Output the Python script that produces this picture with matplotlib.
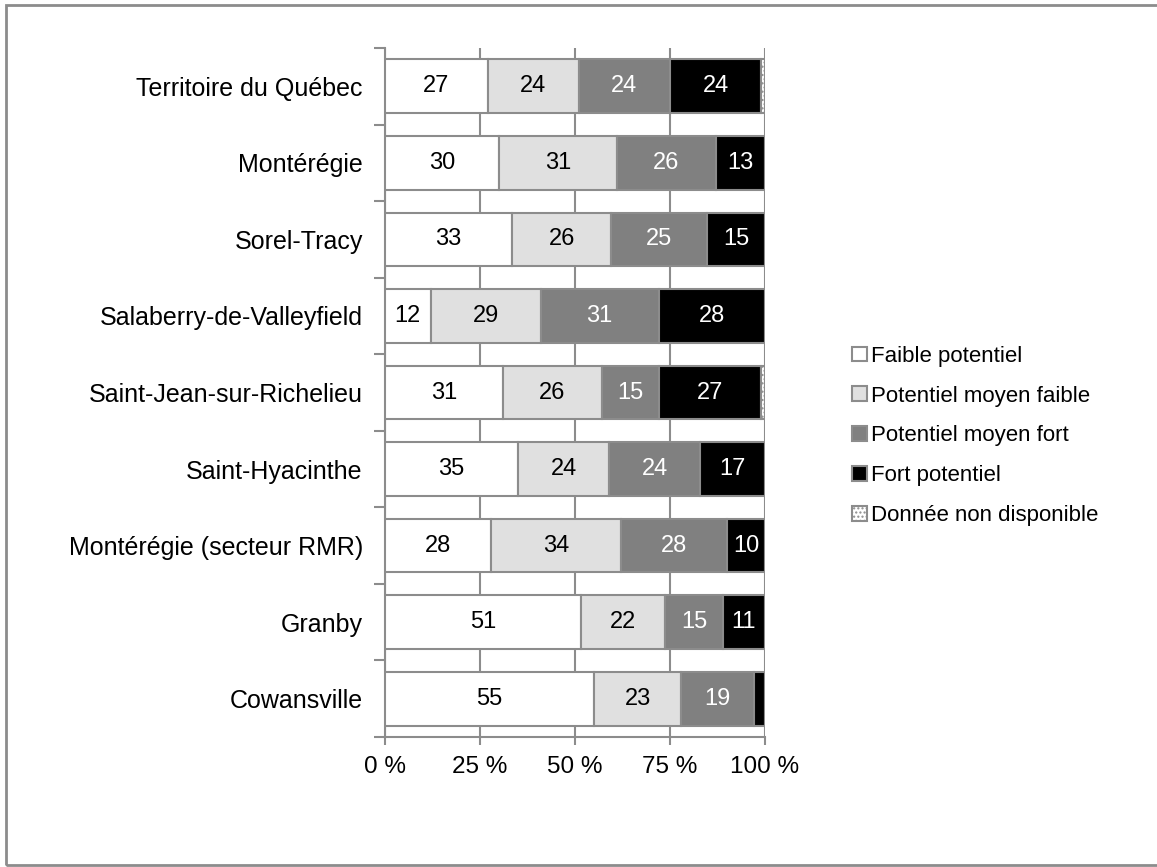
import matplotlib.pyplot as plt
from matplotlib.patches import Patch, Rectangle

plt.rcParams['font.family'] = ['Liberation Sans', 'DejaVu Sans']

regions = ['Territoire du Québec', 'Montérégie', 'Sorel-Tracy', 'Salaberry-de-Valleyfield',
           'Saint-Jean-sur-Richelieu', 'Saint-Hyacinthe', 'Montérégie (secteur RMR)',
           'Granby', 'Cowansville']
faible = [27, 30, 33, 12, 31, 35, 28, 51, 55]
moyen_faible = [24, 31, 26, 29, 26, 24, 34, 22, 23]
moyen_fort = [24, 26, 25, 31, 15, 24, 28, 15, 19]
fort = [24, 13, 15, 28, 27, 17, 10, 11, 3]
non_dispo = [1, 0, 0, 0, 1, 0, 0, 0, 0]

series = [
    ('Faible potentiel', faible, 'white', 'black'),
    ('Potentiel moyen faible', moyen_faible, '#e0e0e0', 'black'),
    ('Potentiel moyen fort', moyen_fort, '#808080', 'white'),
    ('Fort potentiel', fort, 'black', 'white'),
    ('Donnée non disponible', non_dispo, 'white', 'black'),
]

edge = '#8c8c8c'

fig = plt.figure(figsize=(11.57, 8.67), dpi=100)
ax = fig.add_axes([385 / 1157, 1 - 737 / 867, 380 / 1157, 689 / 867])

# 100 % stacked: each row scaled to its total
totals = [sum(s[1][i] for s in series) for i in range(len(regions))]
left = [0.0] * len(regions)
for name, vals, color, tcolor in series:
    widths = [v / t * 100 for v, t in zip(vals, totals)]
    hatch = '....' if name == 'Donnée non disponible' else None
    ax.barh(range(len(regions)), widths, left=left, height=0.7, color=color,
            edgecolor=edge, linewidth=1.5, hatch=hatch, zorder=3)
    if name != 'Donnée non disponible':
        for i, (v, w) in enumerate(zip(vals, widths)):
            if v >= 5:
                ax.text(left[i] + w / 2, i, str(v), ha='center', va='center',
                        fontsize=17, color=tcolor, zorder=4)
    left = [l + w for l, w in zip(left, widths)]

ax.set_xlim(0, 100)
ax.set_ylim(len(regions) - 0.5, -0.5)
ax.set_xticks([0, 25, 50, 75, 100])
ax.set_xticklabels(['0 %', '25 %', '50 %', '75 %', '100 %'], fontsize=17.5)
ax.set_yticks(range(len(regions)))
ax.set_yticklabels(regions, fontsize=18)
ax.set_yticks([i - 0.5 for i in range(len(regions) + 1)], minor=True)
ax.tick_params(axis='y', which='major', length=0, pad=16)
ax.tick_params(axis='y', which='minor', length=8, width=1.5, color=edge, direction='out')
ax.tick_params(axis='x', length=6, width=1.5, color=edge, direction='out', pad=8)
ax.grid(axis='x', color=edge, linewidth=1.5, zorder=0)
for side in ['top', 'right']:
    ax.spines[side].set_visible(False)
for side in ['left', 'bottom']:
    ax.spines[side].set_color(edge)
    ax.spines[side].set_linewidth(1.5)

handles = [Patch(facecolor=c, edgecolor=edge, linewidth=1.5,
                 hatch='....' if n == 'Donnée non disponible' else None, label=n)
           for n, _, c, _ in series]
fig.legend(handles=handles, loc='center left', bbox_to_anchor=(841 / 1157, 1 - 436 / 867),
           frameon=False, fontsize=16, handlelength=0.65, handleheight=0.65,
           handletextpad=0.2, labelspacing=0.85, borderpad=0)

fig.patches.append(Rectangle((6 / 1157, 2 / 867), 1.1, 1 - 7 / 867, transform=fig.transFigure,
                             fill=False, edgecolor=edge, linewidth=2))

fig.savefig('out.png', dpi=100)
